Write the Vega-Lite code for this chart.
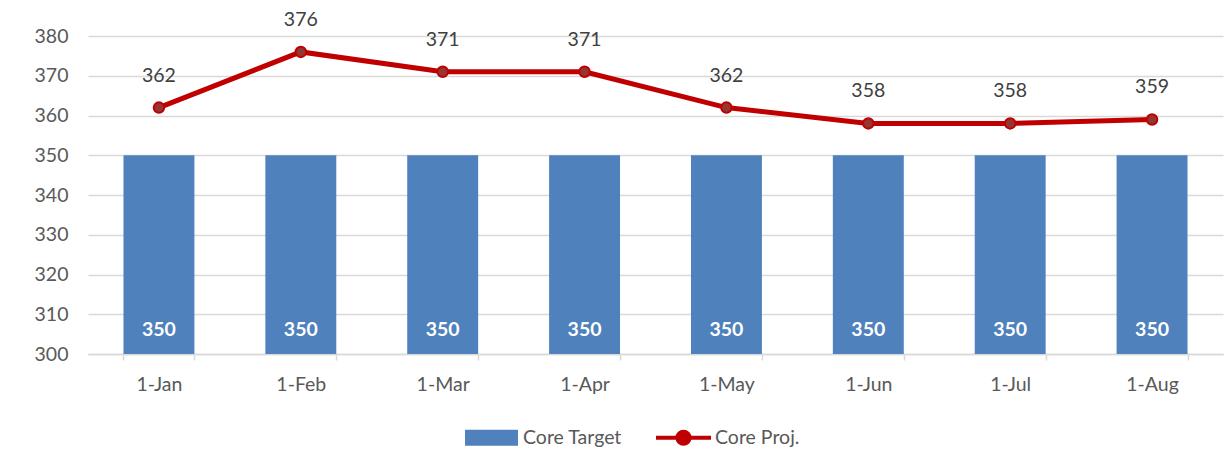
{
  "$schema": "https://vega.github.io/schema/vega-lite/v6.json",
  "autosize": {"type": "none"},
  "padding": {"left": 88, "top": 36, "right": 6, "bottom": 114},
  "width": 1135,
  "height": 318,
  "background": "white",
  "config": {
    "font": "Lato",
    "view": {"stroke": null},
    "axis": {"labelFont": "Lato", "labelColor": "#595959", "labelFontSize": 19.5, "title": null, "labelOverlap": false}
  },
  "data": {
    "values": [
      {"month": "1-Jan", "target": 350, "proj": 362},
      {"month": "1-Feb", "target": 350, "proj": 376},
      {"month": "1-Mar", "target": 350, "proj": 371},
      {"month": "1-Apr", "target": 350, "proj": 371},
      {"month": "1-May", "target": 350, "proj": 362},
      {"month": "1-Jun", "target": 350, "proj": 358},
      {"month": "1-Jul", "target": 350, "proj": 358},
      {"month": "1-Aug", "target": 350, "proj": 359}
    ]
  },
  "encoding": {
    "x": {
      "field": "month", "type": "nominal", "sort": null,
      "scale": {"paddingInner": 0.5, "paddingOuter": 0.25},
      "axis": {
        "labelAngle": 0, "tickBand": "extent", "tickSize": 6, "tickColor": "#D9D9D9", "tickWidth": 1.5,
        "domainColor": "#D9D9D9", "domainWidth": 1.5, "labelPadding": 15, "grid": false
      }
    }
  },
  "layer": [
    {
      "mark": {"type": "bar"},
      "encoding": {
        "y": {
          "field": "target", "type": "quantitative",
          "scale": {"domain": [300, 380], "zero": false, "nice": false},
          "axis": {
            "values": [300, 310, 320, 330, 340, 350, 360, 370, 380], "tickCount": 20,
            "domain": false, "ticks": false, "labelPadding": 20,
            "gridColor": "#D9D9D9", "gridWidth": 1.3
          }
        },
        "y2": {"datum": 300},
        "color": {
          "datum": "Core Target", "type": "nominal",
          "scale": {"domain": ["Core Target", "Core Proj."], "range": ["#4F81BD", "#C00000"]},
          "legend": {
            "title": null, "orient": "none", "direction": "horizontal",
            "legendX": 374, "legendY": 372,
            "symbolSize": 3025,
            "symbolType": "M-0.89,-0.22H0.89V0.22H-0.89Z",
            "labelFont": "Lato", "labelFontSize": 19.5, "labelColor": "#595959",
            "labelOffset": 2, "columnPadding": 26,
            "encode": {
              "symbols": {
                "update": {
                  "shape": {"signal": "datum.label === 'Core Target' ? 'M-0.89,-0.22H0.89V0.22H-0.89Z' : 'M-1,0H1M0.22,0A0.22,0.22 0 1,1 -0.22,0A0.22,0.22 0 1,1 0.22,0Z'"},
                  "fill": {"signal": "datum.label === 'Core Target' ? '#4F81BD' : '#943634'"},
                  "stroke": {"signal": "datum.label === 'Core Target' ? null : '#C00000'"},
                  "strokeWidth": {"value": 4},
                  "opacity": {"value": 1},
                  "fillOpacity": {"value": 1}
                }
              }
            }
          }
        }
      }
    },
    {
      "mark": {"type": "text", "font": "Lato", "fontWeight": "bold", "fontSize": 19.5, "color": "white", "dy": -24, "baseline": "middle"},
      "encoding": {
        "y": {"datum": 300, "type": "quantitative"},
        "text": {"field": "target", "type": "quantitative"}
      }
    },
    {
      "mark": {
        "type": "line", "strokeWidth": 5, "color": "#C00000",
        "point": {"filled": true, "fill": "#943634", "stroke": "#C00000", "strokeWidth": 2, "size": 110, "opacity": 1}
      },
      "encoding": {
        "y": {"field": "proj", "type": "quantitative"},
        "color": {"datum": "Core Proj.", "type": "nominal"}
      }
    },
    {
      "mark": {"type": "text", "font": "Lato", "fontSize": 19.5, "color": "#404040", "dy": -32, "baseline": "middle"},
      "encoding": {
        "y": {"field": "proj", "type": "quantitative"},
        "text": {"field": "proj", "type": "quantitative"}
      }
    }
  ]
}
